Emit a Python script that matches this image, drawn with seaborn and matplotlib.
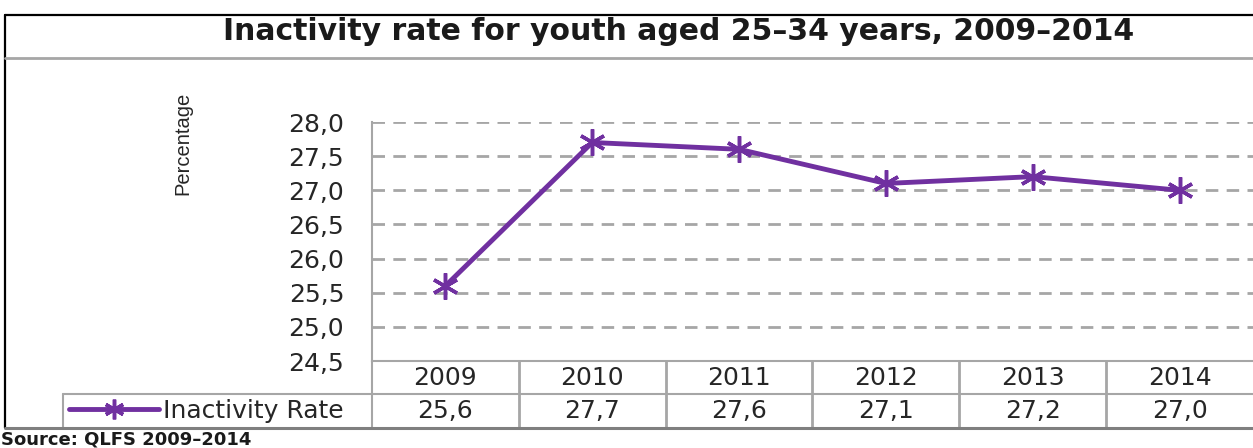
import numpy as np
import pandas as pd
import seaborn as sns
import matplotlib.pyplot as plt
from matplotlib.lines import Line2D
from matplotlib.transforms import blended_transform_factory
from matplotlib.ticker import FuncFormatter

# --- data -------------------------------------------------------------
years = ["2009", "2010", "2011", "2012", "2013", "2014"]
rates = [25.6, 27.7, 27.6, 27.1, 27.2, 27.0]
y_ticks = [24.5, 25.0, 25.5, 26.0, 26.5, 27.0, 27.5, 28.0]
series_name = "Inactivity Rate"
y_label = "Percentage"
title = "Inactivity rate for youth aged 25\u201334 years, 2009\u20132014"
source = "Source: QLFS 2009\u20132014"

# --- styling -------------------------------------------------------------
PURPLE = "#7030A0"
GRID = "#A6A6A6"
TEXT = "#262626"

W, H = 1253, 448


def fx(px):
    return px / W


def fy(py):
    return 1 - py / H


sns.set_theme(style="white")
plt.rcParams["font.family"] = ["DejaVu Sans"]
plt.rcParams["lines.scale_dashes"] = False

fig = plt.figure(figsize=(W / 100, H / 100), dpi=100)
fig.patch.set_facecolor("white")

ax = fig.add_axes([fx(372), fy(361), fx(W) - fx(372), fy(122) - fy(361)])
ax.set_facecolor("white")

df = pd.DataFrame({"pos": np.arange(len(years)), "year": years, "rate": rates})
sns.lineplot(
    data=df, x="pos", y="rate", ax=ax, color=PURPLE, linewidth=3.5,
    marker=(6, 2, 0), markersize=19, markeredgecolor=PURPLE,
    markeredgewidth=2.5, legend=False, zorder=5,
)

ax.set_xlim(-0.5, len(years) - 0.5)
ax.set_ylim(y_ticks[0], y_ticks[-1])
ax.set_yticks(y_ticks)
ax.yaxis.set_major_formatter(FuncFormatter(lambda v, _: f"{v:.1f}".replace(".", ",")))
ax.set_xticks([])
ax.set_xlabel("")
ax.set_ylabel("")
ax.yaxis.grid(True, color=GRID, linewidth=2, linestyle=(0, (9, 6)))
ax.set_axisbelow(True)
for side in ("top", "right"):
    ax.spines[side].set_visible(False)
for side in ("left", "bottom"):
    ax.spines[side].set_color(GRID)
    ax.spines[side].set_linewidth(1.5)
ax.tick_params(axis="y", direction="inout", length=20, width=1.5, color=GRID,
               labelsize=18, labelcolor=TEXT, pad=10)

fig.text(fx(183), fy(143), y_label, rotation=90, ha="center", va="center",
         fontsize=14.5, family=["Liberation Sans", "DejaVu Sans"], color=TEXT)

# --- data table under the axis ------------------------------------------------
blend = blended_transform_factory(ax.transData, fig.transFigure)
row_top, row_mid, row_bot = fy(361), fy(394), fy(428)

fig.add_artist(Line2D([fx(63), 1], [row_mid, row_mid], color=GRID, lw=1.5,
                      transform=fig.transFigure))
fig.add_artist(Line2D([fx(63), fx(63)], [row_mid, row_bot], color=GRID, lw=1.5,
                      transform=fig.transFigure))
fig.add_artist(Line2D([fx(372), fx(372)], [row_top, row_bot], color=GRID, lw=1.5,
                      transform=fig.transFigure))
for k in range(1, len(years)):
    fig.add_artist(Line2D([k - 0.5, k - 0.5], [row_top, row_bot], color=GRID,
                          lw=2, transform=blend))

for i, (yr, val) in enumerate(zip(years, rates)):
    ax.text(i, fy(378), yr, transform=blend, ha="center", va="center",
            fontsize=18, color=TEXT)
    ax.text(i, fy(411), f"{val:.1f}".replace(".", ","), transform=blend,
            ha="center", va="center", fontsize=18, color=TEXT)

line = ax.lines[0]
fig.legend(handles=[line], labels=[series_name], loc="center left",
           bbox_to_anchor=(fx(69), fy(411)), bbox_transform=fig.transFigure,
           frameon=False, fontsize=18, handlelength=3.6, handletextpad=0.15,
           borderpad=0, borderaxespad=0, markerscale=0.75, labelcolor=TEXT)

# --- outer frame, title and source ---------------------------------------------
fig.add_artist(Line2D([fx(5), fx(5)], [fy(15), fy(428)], color="black", lw=1.6,
                      transform=fig.transFigure))
fig.add_artist(Line2D([fx(5), 1], [fy(15), fy(15)], color="black", lw=1.6,
                      transform=fig.transFigure))
fig.add_artist(Line2D([fx(5), 1], [fy(58), fy(58)], color=GRID, lw=2,
                      transform=fig.transFigure))
fig.add_artist(Line2D([fx(5), 1], [fy(428), fy(428)], color="#7F7F7F", lw=2.2,
                      transform=fig.transFigure))

fig.text(fx(679), fy(31), title, ha="center", va="center", fontsize=21.5,
         fontweight="bold", color="#1A1A1A")
fig.text(fx(1), fy(439), source, ha="left", va="center", fontsize=13,
         fontweight="bold", color="#1A1A1A")

fig.savefig("out.png", dpi=100, facecolor="white")
